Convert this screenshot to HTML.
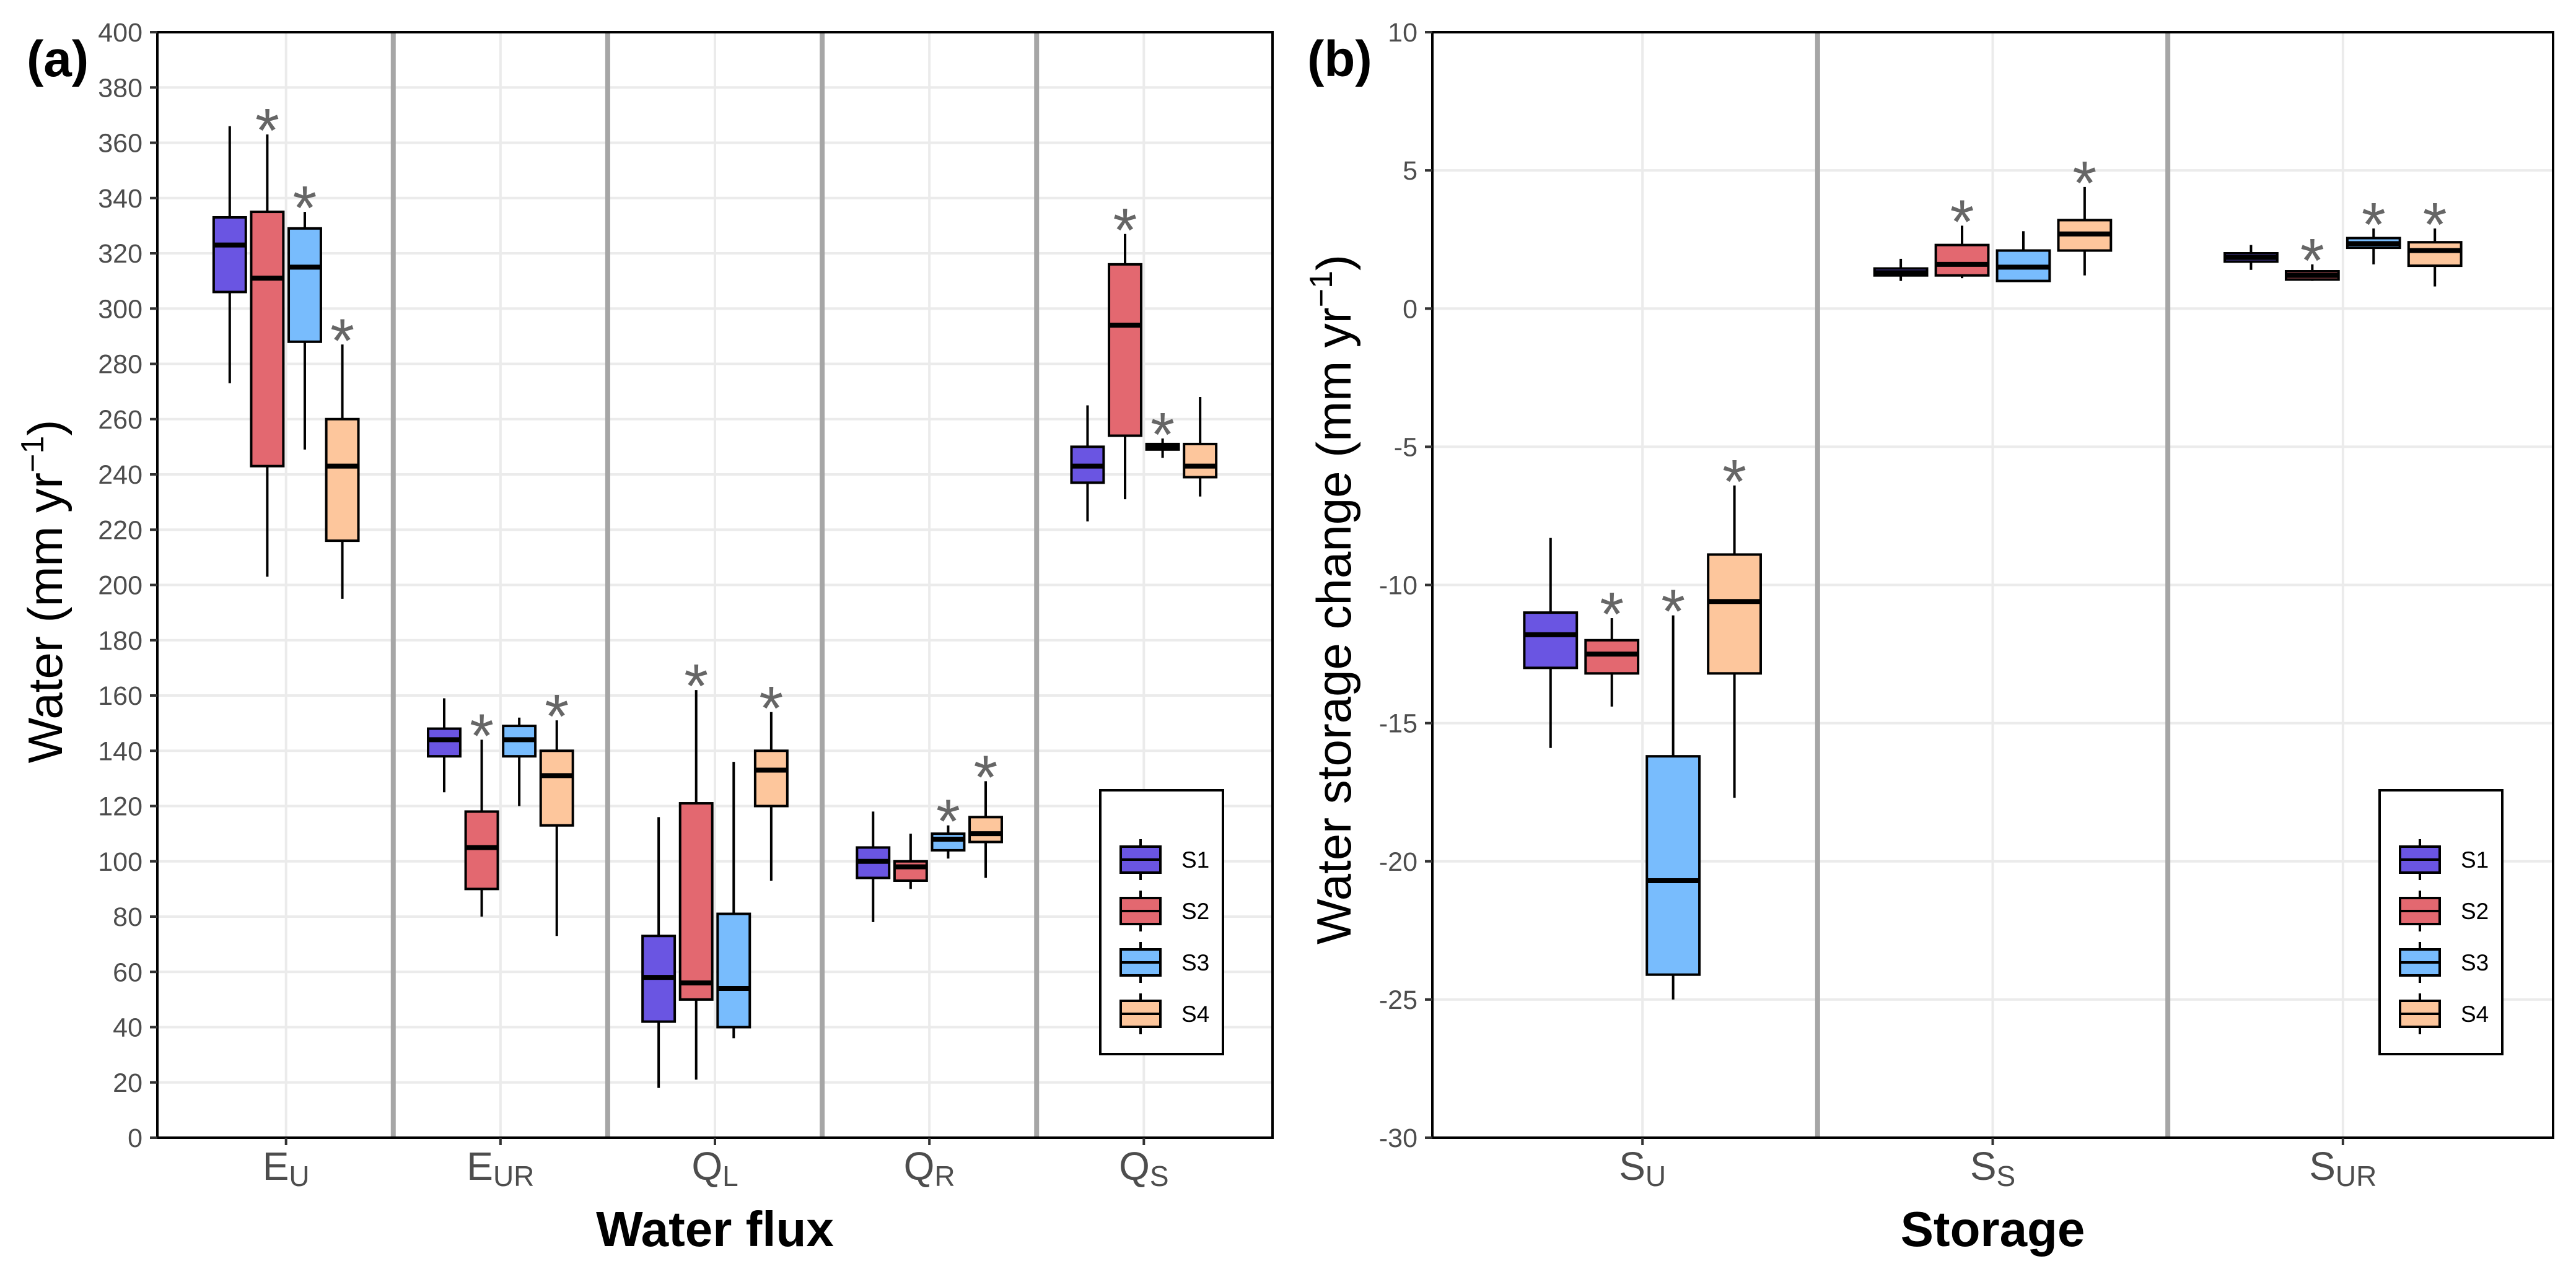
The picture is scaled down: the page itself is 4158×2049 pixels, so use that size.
<!DOCTYPE html>
<html><head><meta charset="utf-8"><style>
html,body{margin:0;padding:0;background:#fff}
svg{display:block;font-family:"Liberation Sans",Arial,sans-serif}
</style></head><body>
<svg id="chart" width="4158" height="2049" viewBox="0 0 4158 2049" xmlns="http://www.w3.org/2000/svg">
<g id="pa"></g>
<g id="pb"></g>
</svg>
<script>
// ---- data ----
const seriesNames = ["S1","S2","S3","S4"];
const seriesColors = ["#6a55e2","#e36870","#78bcfd","#fdc69c"];
const catsA = [["E","U"],["E","UR"],["Q","L"],["Q","R"],["Q","S"]];
const catsB = [["S","U"],["S","S"],["S","UR"]];
const ticksA = [0,20,40,60,80,100,120,140,160,180,200,220,240,260,280,300,320,340,360,380,400];
const ticksB = [-30,-25,-20,-15,-10,-5,0,5,10];
// each: [low, q1, median, q3, high] per category per series
const a_S1 = [[273,306,323,333,366],[125,138,144,148,159],[18,42,58,73,116],[78,94,100,105,118],[223,237,243,250,265]];
const a_S2 = [[203,243,311,335,363],[80,90,105,118,144],[21,50,56,121,162],[90,93,98,100,110],[231,254,294,316,327]];
const a_S3 = [[249,288,315,329,335],[120,138,144,149,152],[36,40,54,81,136],[101,104,108,110,113],[246,249,250,251,253]];
const a_S4 = [[195,216,243,260,287],[73,113,131,140,151],[93,120,133,140,154],[94,107,110,116,129],[232,239,243,251,268]];
const b_S1 = [[-15.9,-13.0,-11.8,-11.0,-8.3],[1.0,1.2,1.3,1.45,1.8],[1.4,1.7,1.85,2.0,2.3]];
const b_S2 = [[-14.4,-13.2,-12.5,-12.0,-11.2],[1.1,1.2,1.6,2.3,3.0],[1.0,1.05,1.2,1.35,1.6]];
const b_S3 = [[-25.0,-24.1,-20.7,-16.2,-11.1],[1.0,1.0,1.5,2.1,2.8],[1.6,2.2,2.35,2.55,2.9]];
const b_S4 = [[-17.7,-13.2,-10.6,-8.9,-6.4],[1.2,2.1,2.7,3.2,4.4],[0.8,1.55,2.1,2.4,2.9]];
const starsA = [[false,true,true,true],[false,true,false,true],[false,true,false,true],[false,false,true,true],[false,true,true,false]];
const starsB = [[false,true,true,true],[false,true,false,true],[false,true,true,true]];

const NS="http://www.w3.org/2000/svg";
function mk(parent,tag,attrs,text){const e=document.createElementNS(NS,tag);for(const k in attrs)e.setAttribute(k,attrs[k]);if(text!==undefined)e.textContent=text;parent.appendChild(e);return e;}

function panel(g,cfg){
  const L=cfg.left,R=cfg.right,T=52,B=1837;
  const n=cfg.cats.length, step=(R-L)/(n-1+1.2);
  const xc=i=>L+(0.6+i)*step;
  const y=v=>B-(v-cfg.min)/(cfg.max-cfg.min)*(B-T);
  cfg.ticks.forEach(t=>{const l=mk(g,'line',{x1:L,x2:R,y1:y(t),y2:y(t),stroke:'#ebebeb','stroke-width':4});
    
    });
  cfg.cats.forEach((c,i)=>{const l=mk(g,'line',{x1:xc(i),x2:xc(i),y1:T,y2:B,stroke:'#ebebeb','stroke-width':4});
    
    });
  for(let i=0;i<n-1;i++){const l=mk(g,'line',{x1:xc(i)+step/2,x2:xc(i)+step/2,y1:T,y2:B,stroke:'#a6a6a6','stroke-width':8});
    
    }
  const bw=0.15*step, dw=0.175*step;
  cfg.series.forEach((ser,s)=>{
    ser.forEach((d,i)=>{
      const cx=xc(i)+(s-1.5)*dw;
      const bg=mk(g,'g',{});
      
      
      mk(bg,'line',{x1:cx,x2:cx,y1:y(d[4]),y2:y(d[3]),stroke:'#000','stroke-width':4});
      mk(bg,'line',{x1:cx,x2:cx,y1:y(d[1]),y2:y(d[0]),stroke:'#000','stroke-width':4});
      mk(bg,'rect',{x:cx-bw/2,y:y(d[3]),width:bw,height:Math.max(1,y(d[1])-y(d[3])),fill:seriesColors[s],stroke:'#000','stroke-width':4});
      mk(bg,'line',{x1:cx-bw/2,x2:cx+bw/2,y1:y(d[2]),y2:y(d[2]),stroke:'#000','stroke-width':8});
      if(cfg.stars[i][s]){const st=mk(g,'text',{x:cx,y:y(d[4])+28,'text-anchor':'middle','font-size':100,fill:'#666'},'*');
        
        }
    });
  });
  const bd=mk(g,'rect',{x:L,y:T,width:R-L,height:B-T,fill:'none',stroke:'#000','stroke-width':4});
  
  
  cfg.ticks.forEach(t=>{
    mk(g,'line',{x1:L-12,x2:L,y1:y(t),y2:y(t),stroke:'#333','stroke-width':4});
    const tl=mk(g,'text',{x:L-24,y:y(t)+15,'text-anchor':'end','font-size':43,fill:'#4d4d4d'},String(t));
    
    
  });
  cfg.cats.forEach((c,i)=>{
    mk(g,'line',{x1:xc(i),x2:xc(i),y1:B,y2:B+12,stroke:'#333','stroke-width':4});
    const tl=mk(g,'text',{x:xc(i),y:1905,'text-anchor':'middle','font-size':64,fill:'#4d4d4d'});
    
    
    mk(tl,'tspan',{},c[0]);
    mk(tl,'tspan',{'font-size':46,dy:10},c[1]);
  });
  const xt=mk(g,'text',{x:(L+R)/2,y:2012,'text-anchor':'middle','font-size':80,'font-weight':'bold',fill:'#000'},cfg.xtitle);
  
  
  const yt=mk(g,'text',{transform:`translate(${cfg.ytx},${cfg.yty}) rotate(-90)`,'text-anchor':'middle','font-size':78,fill:'#000'});
  
  
  mk(yt,'tspan',{},cfg.ytitle+' (mm yr');
  mk(yt,'tspan',{'font-size':52,dy:-30},'−1');
  mk(yt,'tspan',{dy:30},')');
  const pl=mk(g,'text',{x:cfg.plx,y:123,'font-size':82,'font-weight':'bold',fill:'#000'},cfg.plabel);
  
  
  const lg=mk(g,'g',{});
  
  
  const lx=cfg.legX;
  mk(lg,'rect',{x:lx,y:1276,width:198,height:426,fill:'#fff',stroke:'#000','stroke-width':4});
  const rows=[1388,1471,1554,1637];
  seriesNames.forEach((nm,s)=>{
    const e=mk(lg,'g',{});
    
    
    const kx=lx+65, ky=rows[s];
    mk(e,'line',{x1:kx,x2:kx,y1:ky-33,y2:ky+33,stroke:'#000','stroke-width':4});
    mk(e,'rect',{x:kx-32,y:ky-21,width:64,height:42,fill:seriesColors[s],stroke:'#000','stroke-width':4});
    mk(e,'line',{x1:kx-32,x2:kx+32,y1:ky,y2:ky,stroke:'#000','stroke-width':4});
    mk(e,'text',{x:lx+131,y:ky+13,'font-size':37,fill:'#000'},nm);
  });
}
panel(document.getElementById('pa'),{left:254,right:2054,min:0,max:400,ticks:ticksA,cats:catsA,
  series:[a_S1,a_S2,a_S3,a_S4],stars:starsA,xtitle:'Water flux',ytitle:'Water',ytx:100,yty:955,plabel:'(a)',plx:43,legX:1776});
panel(document.getElementById('pb'),{left:2312,right:4121,min:-30,max:10,ticks:ticksB,cats:catsB,
  series:[b_S1,b_S2,b_S3,b_S4],stars:starsB,xtitle:'Storage',ytitle:'Water storage change',ytx:2180,yty:968,plabel:'(b)',plx:2110,legX:3841});
</script>
</body></html>
